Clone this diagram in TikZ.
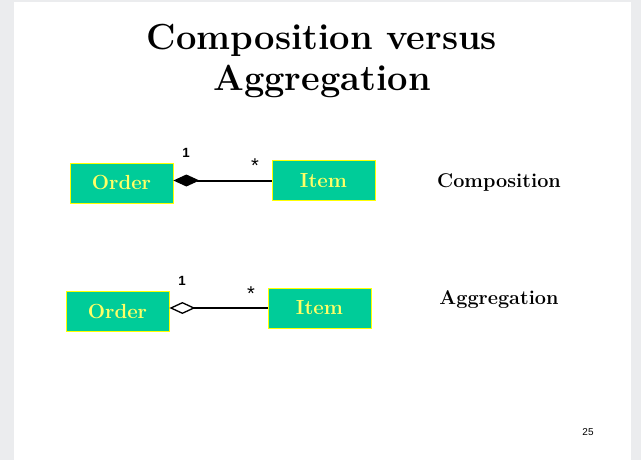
\documentclass[tikz,border=0pt]{standalone}
\usepackage{fontspec}
\newfontfamily\labelsans{Liberation Sans}
\usetikzlibrary{arrows.meta}
\definecolor{slidegray}{HTML}{EBECEE}
\definecolor{classfill}{HTML}{00CC99}
\definecolor{classedge}{HTML}{FFFF00}
\definecolor{classtext}{HTML}{FFFF66}
\tikzset{
  classbox/.style={draw=classedge, fill=classfill, line width=0.6pt,
    minimum width=103*0.75pt, minimum height=40*0.75pt, inner sep=0pt,
    text=classtext, font=\fontsize{15.3}{17}\selectfont\bfseries},
  kindlabel/.style={font=\fontsize{14.9}{17}\selectfont\bfseries, inner sep=0pt},
  multlabel/.style={font=\labelsans\fontsize{10}{12}\selectfont\bfseries, inner sep=0pt},
  starlabel/.style={font=\labelsans\fontsize{15}{17}\selectfont, inner sep=0pt},
  assoc/.style={line width=1.5pt},
  composite/.style={assoc, -{Diamond[length=26*0.75pt, width=12*0.75pt, line width=1pt, fill=black]}},
  shared/.style={assoc, -{Diamond[length=26*0.75pt, width=12*0.75pt, line width=1pt, fill=white]}}
}
\begin{document}
\begin{tikzpicture}[x=0.75pt, y=-0.75pt]
  % slide page on a gray backdrop
  \fill[slidegray] (0,0) rectangle (641,460);
  \fill[white] (14,2) rectangle (631,460);
  \useasboundingbox (0,0) rectangle (641,460);

  % title
  \node[font=\fontsize{27.2}{31}\selectfont\bfseries, align=center] (title) at (322,61)
    {Composition versus\\Aggregation};

  % composition
  \node[classbox] (order1) at (121.5,183) {Order};
  \node[classbox] (item1) at (323.5,180.5) {Item};
  \coordinate (end1) at (item1.west -| order1.east);
  \draw[composite] (item1.west) -- (end1);
  \node[multlabel] (one1) at (186,153) {1};
  \node[starlabel] (many1) at (255,166) {*};
  \node[kindlabel] (kind1) at (499,182) {Composition};

  % aggregation
  \node[classbox] (order2) at (117.5,311) {Order};
  \node[classbox] (item2) at (319.5,308) {Item};
  \coordinate (end2) at (item2.west -| order2.east);
  \draw[shared] (item2.west) -- (end2);
  \node[multlabel] (one2) at (182,281) {1};
  \node[starlabel] (many2) at (251,294) {*};
  \node[kindlabel] (kind2) at (499,300) {Aggregation};

  % page number
  \node[font=\labelsans\fontsize{7.5}{9}\selectfont, inner sep=0pt] (page) at (588,432) {25};
\end{tikzpicture}
\end{document}
